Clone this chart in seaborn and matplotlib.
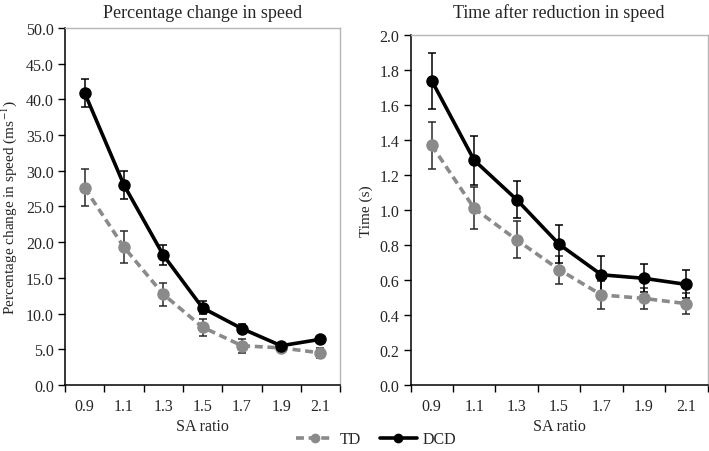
import matplotlib
matplotlib.use("Agg")
import matplotlib.pyplot as plt
import seaborn as sns
import pandas as pd
import numpy as np

# values
sa_ratio = ["0.9", "1.1", "1.3", "1.5", "1.7", "1.9", "2.1"]

speed_td = [27.6, 19.3, 12.7, 8.1, 5.5, 5.2, 4.5]
speed_td_err = [2.6, 2.2, 1.6, 1.2, 1.0, 0.5, 0.7]
speed_dcd = [40.9, 28.0, 18.2, 10.8, 7.9, 5.5, 6.4]
speed_dcd_err = [2.0, 2.0, 1.4, 0.9, 0.6, 0.4, 0.5]

time_td = [1.37, 1.01, 0.83, 0.66, 0.515, 0.495, 0.465]
time_td_err = [0.135, 0.12, 0.105, 0.08, 0.08, 0.06, 0.06]
time_dcd = [1.74, 1.285, 1.06, 0.805, 0.63, 0.61, 0.575]
time_dcd_err = [0.16, 0.14, 0.105, 0.11, 0.11, 0.08, 0.08]

groups = ["TD", "DCD"]
colors = {"TD": "#8a8a8a", "DCD": "#000000"}

sns.set_style("white")
plt.rcParams["font.family"] = ["Liberation Serif", "DejaVu Serif"]
plt.rcParams["mathtext.fontset"] = "stix"

fig = plt.figure(figsize=(7.09, 4.52), dpi=100)
ax1 = fig.add_axes([0.0917, 0.146, 0.388, 0.790])
ax2 = fig.add_axes([0.579, 0.146, 0.419, 0.774])


def long_frame(td, dcd):
    pos = list(range(len(sa_ratio)))
    return pd.DataFrame({
        "pos": pos * 2,
        "value": td + dcd,
        "group": ["TD"] * len(td) + ["DCD"] * len(dcd),
    })


def draw(ax, td, td_err, dcd, dcd_err, ymax, ystep, title, ylabel, pad):
    df = long_frame(td, dcd)
    pos = np.arange(len(sa_ratio))
    ax.errorbar(pos, td, yerr=td_err, fmt="none", ecolor="#2a2a2a",
                elinewidth=1.1, capsize=2.8, capthick=1.1, zorder=1)
    ax.errorbar(pos, dcd, yerr=dcd_err, fmt="none", ecolor="#000000",
                elinewidth=1.1, capsize=2.8, capthick=1.1, zorder=1)
    sns.lineplot(data=df, x="pos", y="value", hue="group", style="group",
                 hue_order=groups, style_order=groups, palette=colors,
                 dashes={"TD": (2.2, 1.3), "DCD": ""},
                 markers={"TD": "o", "DCD": "o"}, markersize=9,
                 markeredgewidth=0, linewidth=2.6, ax=ax, legend=False, zorder=3)
    ax.set_xlim(-0.5, len(sa_ratio) - 0.5)
    ax.set_ylim(0, ymax)
    ax.set_xticks(pos)
    ax.set_xticklabels(sa_ratio, fontsize=11.5)
    ax.set_xticks(np.arange(-0.5, len(sa_ratio)), minor=True)
    ax.tick_params(axis="x", which="major", length=0, pad=9)
    ax.tick_params(axis="x", which="minor", length=5, width=1, color="black",
                   direction="out", bottom=True)
    yt = np.arange(0, ymax + ystep / 2, ystep)
    ax.set_yticks(yt)
    ax.set_yticklabels(["{:.1f}".format(v) for v in yt], fontsize=11.5)
    ax.tick_params(axis="y", length=5, width=1, color="black", direction="out",
                   left=True, pad=3)
    for s in ["left", "bottom"]:
        ax.spines[s].set_color("black")
        ax.spines[s].set_linewidth(1.1)
    for s in ["top", "right"]:
        ax.spines[s].set_color("#b5b5b5")
        ax.spines[s].set_linewidth(1.0)
    ax.set_xlabel("SA ratio", fontsize=11.5, labelpad=3)
    ax.set_ylabel(ylabel, fontsize=11, labelpad=5)
    ax.set_title(title, fontsize=13, pad=pad)


draw(ax1, speed_td, speed_td_err, speed_dcd, speed_dcd_err, 50, 5,
     "Percentage change in speed", "Percentage change in speed (ms$^{-1}$)", 8)
draw(ax2, time_td, time_td_err, time_dcd, time_dcd_err, 2.0, 0.2,
     "Time after reduction in speed", "Time (s)", 13)

handles = [
    plt.Line2D([], [], color=colors["TD"], lw=2.6, ls=(0, (2.2, 1.3)),
               marker="o", markersize=7, markeredgewidth=0),
    plt.Line2D([], [], color=colors["DCD"], lw=2.6, marker="o",
               markersize=7, markeredgewidth=0),
]
fig.legend(handles, groups, loc="center", bbox_to_anchor=(0.531, 0.026),
           ncol=2, frameon=False, fontsize=11.5, handlelength=2.3,
           columnspacing=1.2, handletextpad=0.4)

fig.savefig("out.png", dpi=100)
